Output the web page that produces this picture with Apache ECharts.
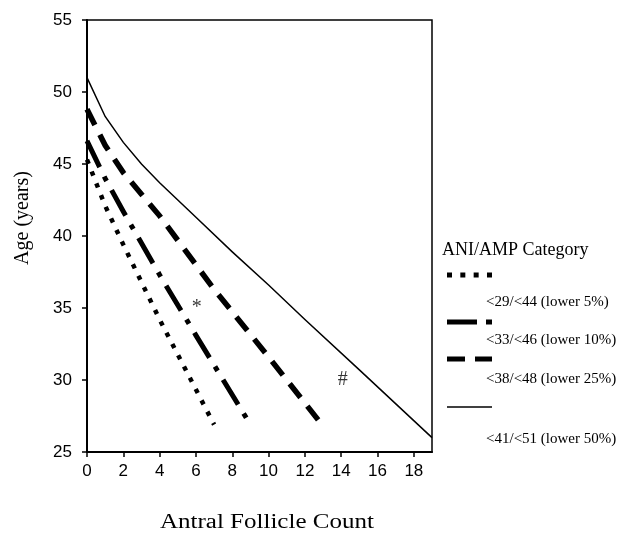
<!DOCTYPE html>
<html>
<head>
<meta charset="utf-8">
<script src="https://cdn.jsdelivr.net/npm/echarts@6/dist/echarts.min.js"></script>
<style>
  html, body { margin: 0; padding: 0; background: #fff; }
  #chart { width: 619px; height: 540px; }
</style>
</head>
<body>
<div id="chart"></div>
<script>
// x ticks shown on the axis
const xTicks = [0, 2, 4, 6, 8, 10, 12, 14, 16, 18];

// lower 5% (<29/<44)
const afc5 = [0, 1, 2, 4, 7];
const age5 = [45.3, 42.1, 39.4, 34.2, 26.9];
// lower 10% (<33/<46)
const afc10 = [0, 1, 2, 4, 6, 9];
const age10 = [46.6, 44.0, 41.7, 37.3, 33.1, 26.9];
// lower 25% (<38/<48)
const afc25 = [0, 1, 2, 4, 7, 10, 13];
const age25 = [48.8, 46.3, 44.4, 41.4, 36.3, 31.6, 26.8];
// lower 50% (<41/<51)
const afc50 = [0, 1, 2, 3, 4, 5, 6, 8, 10, 12, 15, 19];
const age50 = [51.0, 48.3, 46.5, 45.0, 43.7, 42.5, 41.3, 38.9, 36.6, 34.2, 30.7, 26.0];

const seriesNames = [
  '<29/<44 (lower 5%)',
  '<33/<46 (lower 10%)',
  '<38/<48 (lower 25%)',
  '<41/<51 (lower 50%)'
];

// significance marks
const markText = ['*', '#'];
const markX = [6.04, 14.08];
const markY = [35.0, 30.0];

const zip = (xs, ys) => xs.map((x, i) => [x, ys[i]]);

const serif = '"Liberation Serif", "Times New Roman", serif';
const sans = '"Liberation Sans", Arial, sans-serif';

const chart = echarts.init(document.getElementById('chart'), null, { renderer: 'canvas' });

const lineSeries = (name, data, width, dash) => ({
  name: name,
  type: 'line',
  data: data,
  showSymbol: false,
  symbol: 'none',
  silent: true,
  animation: false,
  lineStyle: { color: '#000', width: width, type: dash, cap: 'butt', join: 'miter' }
});

const option = {
  backgroundColor: '#fff',
  animation: false,
  grid: {
    left: 87, top: 20, right: 187, bottom: 88,
    show: true, borderColor: '#000', borderWidth: 1.5
  },
  xAxis: {
    type: 'value',
    min: 0, max: 19, interval: 2,
    splitLine: { show: false },
    axisLine: { lineStyle: { color: '#000', width: 2 } },
    axisTick: { customValues: xTicks, length: 5, lineStyle: { color: '#000', width: 1.5 } },
    axisLabel: { customValues: xTicks, color: '#000', fontFamily: sans, fontSize: 17, margin: 11 }
  },
  yAxis: {
    type: 'value',
    min: 25, max: 55, interval: 5,
    name: 'Age (years)',
    nameLocation: 'middle',
    nameRotate: 90,
    nameGap: 54,
    nameTextStyle: { color: '#000', fontFamily: serif, fontSize: 20, padding: [0, 0, 0, 36] },
    splitLine: { show: false },
    axisLine: { lineStyle: { color: '#000', width: 2 } },
    axisTick: { length: 5, lineStyle: { color: '#000', width: 1.5 } },
    axisLabel: { color: '#000', fontFamily: sans, fontSize: 17, margin: 15 }
  },
  series: [
    lineSeries(seriesNames[0], zip(afc5, age5), 4.5, [4.5, 8.2]),
    lineSeries(seriesNames[1], zip(afc10, age10), 5, [29, 10.5, 5, 10.5]),
    lineSeries(seriesNames[2], zip(afc25, age25), 5.5, [17.5, 11]),
    lineSeries(seriesNames[3], zip(afc50, age50), 1.5, 'solid'),
    {
      type: 'scatter',
      symbolSize: 0,
      silent: true,
      data: markText.map((t, i) => ({ name: t, value: [markX[i], markY[i]] })),
      label: {
        show: true, position: 'inside', formatter: '{b}',
        color: '#000', fontFamily: serif, fontSize: 20
      }
    }
  ],
  graphic: [
    {
      type: 'text', left: 160, top: 513, scaleX: 1.25, originX: 0,
      style: { text: 'Antral Follicle Count', font: '20px ' + serif, fill: '#000' }
    },
    {
      type: 'text', left: 442, top: 241,
      style: { text: 'ANI/AMP Category', font: '18px ' + serif, fill: '#000' }
    },
    { type: 'line', shape: { x1: 447, y1: 275, x2: 492, y2: 275 },
      style: { stroke: '#000', lineWidth: 5, lineDash: [5, 8.33] } },
    { type: 'text', left: 486, top: 295,
      style: { text: seriesNames[0], font: '15px ' + serif, fill: '#000' } },
    { type: 'line', shape: { x1: 447, y1: 322, x2: 492, y2: 322 },
      style: { stroke: '#000', lineWidth: 5, lineDash: [30, 9, 6, 100] } },
    { type: 'text', left: 486, top: 333,
      style: { text: seriesNames[1], font: '15px ' + serif, fill: '#000' } },
    { type: 'line', shape: { x1: 447, y1: 359, x2: 492, y2: 359 },
      style: { stroke: '#000', lineWidth: 5, lineDash: [18, 10, 17, 100] } },
    { type: 'text', left: 486, top: 372,
      style: { text: seriesNames[2], font: '15px ' + serif, fill: '#000' } },
    { type: 'line', shape: { x1: 447, y1: 407, x2: 492, y2: 407 },
      style: { stroke: '#000', lineWidth: 1.5 } },
    { type: 'text', left: 486, top: 432,
      style: { text: seriesNames[3], font: '15px ' + serif, fill: '#000' } }
  ]
};

chart.setOption(option);
</script>
</body>
</html>
